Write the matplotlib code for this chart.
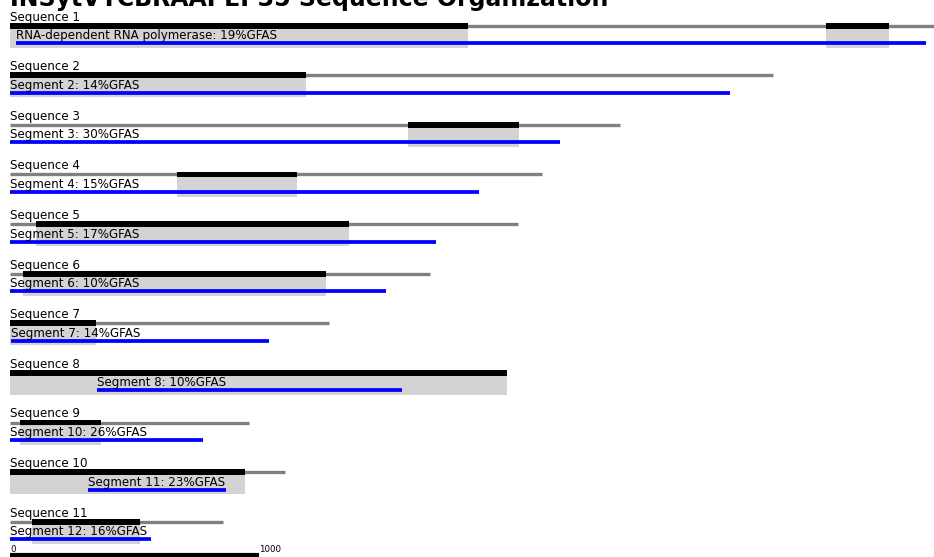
import matplotlib
matplotlib.use("Agg")
import matplotlib.pyplot as plt

# sequence organisation of the contigs (positions in nt)
seq_names = ["Sequence %d" % i for i in range(1, 12)]
seq_lengths = [3760, 3068, 2453, 2139, 2043, 1689, 1283, 1990, 961, 1106, 856]

# ORF spans per sequence (start, end)
orfs = [
    [(0, 1842), (3281, 3534)],
    [(0, 1190)],
    [(1600, 2047)],
    [(671, 1154)],
    [(105, 1363)],
    [(52, 1271)],
    [(0, 346)],
    [(0, 1998)],
    [(40, 366)],
    [(0, 945)],
    [(88, 523)],
]

# annotated segments with GFAS score
seg_labels = [
    "RNA-dependent RNA polymerase: 19%GFAS",
    "Segment 2: 14%GFAS",
    "Segment 3: 30%GFAS",
    "Segment 4: 15%GFAS",
    "Segment 5: 17%GFAS",
    "Segment 6: 10%GFAS",
    "Segment 7: 14%GFAS",
    "Segment 8: 10%GFAS",
    "Segment 10: 26%GFAS",
    "Segment 11: 23%GFAS",
    "Segment 12: 16%GFAS",
]
seg_start = [24, 0, 0, 0, 0, 0, 4, 350, 0, 314, 0]
seg_end = [3682, 2895, 2211, 1886, 1713, 1512, 1041, 1576, 776, 869, 567]

scale_len = 1000

W, H = 934, 557
fig = plt.figure(figsize=(W / 100, H / 100), dpi=100)
ax = fig.add_axes([0, 0, 1, 1])
ax.axis("off")

px_per_nt = 0.2487
row_px = 49.6
ax.set_xlim(-10 / px_per_nt, (W - 10) / px_per_nt)
ax.set_ylim((H - 25.7) / row_px, -25.7 / row_px)

def px(v):
    return v / row_px

for i in range(len(seq_names)):
    ax.text(0, i - px(5), seq_names[i], fontsize=8.6, va="baseline", ha="left")
    ax.plot([0, seq_lengths[i]], [i, i], color="grey", lw=2.4,
            solid_capstyle="butt", zorder=2)
    for (a, b) in orfs[i]:
        ax.barh(i, b - a, left=a, height=px(5.7), color="black", zorder=3)
        ax.barh(i + px(2.85 + 9.65), b - a, left=a, height=px(19.3),
                color="lightgrey", zorder=1)
    ax.plot([seg_start[i], seg_end[i]], [i + px(17.5), i + px(17.5)],
            color="blue", lw=2.7, solid_capstyle="butt", zorder=4)
    ax.text(seg_start[i], i + px(13.5), seg_labels[i], fontsize=8.6,
            va="baseline", ha="left", zorder=5)

# scale bar
n = len(seq_names) - 1
ax.plot([0, scale_len], [n + px(33), n + px(33)], color="black", lw=3,
        solid_capstyle="butt", clip_on=False)
ax.text(0, n + px(30.5), "0", fontsize=6.2, va="baseline", ha="left")
ax.text(scale_len, n + px(30.5), str(scale_len), fontsize=6.2, va="baseline", ha="left")

fig.text(10 / W, 1 - 6 / H, "INSytVYCBRAAPEP35 Sequence Organization",
         fontsize=17, fontweight="bold", va="baseline", ha="left")

fig.savefig("out.png", dpi=100)
